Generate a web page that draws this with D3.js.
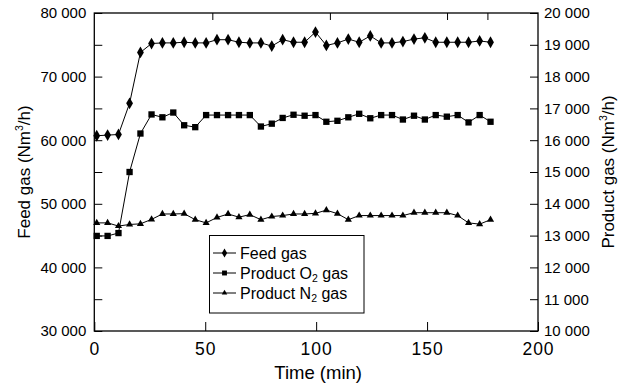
<!DOCTYPE html>
<html><head><meta charset="utf-8">
<script src="https://cdn.jsdelivr.net/npm/d3@7"></script>
<style>
html,body{margin:0;padding:0;background:#fff;}
svg{display:block;font-family:"Liberation Sans",Arial,sans-serif;}
</style></head>
<body>
<svg id="c" width="627" height="391"></svg>
<script>
// ---- data ----
const times = [1.1,6.0,10.9,15.9,20.8,25.8,30.7,35.6,40.5,45.5,50.4,55.3,60.3,65.2,70.1,75.1,80.0,84.9,89.8,94.8,99.7,104.6,109.6,114.5,119.4,124.4,129.3,134.2,139.1,144.1,149.0,153.9,158.9,163.8,168.7,173.7,178.6];
const feedGas = [60700,60800,60900,65800,73800,75200,75300,75300,75400,75300,75300,75800,75800,75400,75300,75300,74800,75800,75400,75400,77000,74900,75300,75900,75400,76400,75300,75300,75500,75900,76100,75400,75400,75400,75400,75600,75400];
const productO2 = [12990,12990,13080,15000,16210,16810,16720,16870,16470,16410,16790,16790,16790,16790,16790,16430,16520,16700,16800,16770,16790,16580,16610,16720,16830,16690,16790,16790,16650,16770,16650,16790,16740,16790,16560,16790,16580];
const productN2 = [13400,13400,13300,13350,13370,13510,13680,13680,13690,13500,13400,13570,13680,13580,13660,13500,13600,13630,13680,13680,13700,13800,13690,13500,13630,13630,13630,13630,13630,13720,13720,13720,13720,13630,13400,13360,13500];
const xTicks = [0,50,100,150,200];
const xTopTicks = [53.2,106.2,159.0,177.2];
const leftTicks = [30000,35000,40000,45000,50000,55000,60000,65000,70000,75000,80000];
const rightTicks = [10000,11000,12000,13000,14000,15000,16000,17000,18000,19000,20000];
const legendItems = [
  {name:"Feed gas", sub:null, key:"feed"},
  {name:"Product O", sub:"2", tail:" gas", key:"o2"},
  {name:"Product N", sub:"2", tail:" gas", key:"n2"}
];

// ---- layout ----
const L=94.3, R=538, T=13, B=331;
const svg = d3.select("#c");
const x = d3.scaleLinear().domain([0,200]).range([L,R]);
const yL = d3.scaleLinear().domain([30000,80000]).range([B,T]);
const yR = d3.scaleLinear().domain([10000,20000]).range([B,T]);
const fmt = d3.formatLocale({decimal:".",thousands:"\u2009".replace("\u2009"," "),grouping:[3],currency:["",""]}).format(",d");

function styleAxis(g){
  g.select(".domain").remove();
  g.selectAll(".tick line").attr("stroke","#000").attr("stroke-width",1);
  g.selectAll(".tick text").attr("fill","#000");
}

// left axis
svg.append("g").attr("transform",`translate(${L},0)`)
  .call(d3.axisLeft(yL).tickValues(leftTicks).tickSizeInner(-8).tickSizeOuter(0).tickPadding(8)
    .tickFormat(d=> d%10000===0 ? fmt(d) : ""))
  .call(styleAxis)
  .call(g=>g.selectAll(".tick text").attr("font-size",15).attr("font-family","Liberation Sans, Arial"));

// right axis
svg.append("g").attr("transform",`translate(${R},0)`)
  .call(d3.axisRight(yR).tickValues(rightTicks).tickSizeInner(-8).tickSizeOuter(0).tickPadding(6)
    .tickFormat(fmt))
  .call(styleAxis)
  .call(g=>g.selectAll(".tick text").attr("font-size",15).attr("font-family","Liberation Sans, Arial"));

// bottom axis
svg.append("g").attr("transform",`translate(0,${B})`)
  .call(d3.axisBottom(x).tickValues(xTicks).tickSizeInner(-9).tickSizeOuter(0).tickPadding(11.5).tickFormat(d3.format("d")))
  .call(styleAxis)
  .call(g=>g.selectAll(".tick text").attr("font-size",17.5).attr("letter-spacing",1).attr("font-family","Liberation Sans, Arial"));
// hide tick line at the ends (frame there)
// top axis ticks
svg.append("g").attr("transform",`translate(0,${T})`)
  .call(d3.axisTop(x).tickValues(xTopTicks).tickSizeInner(-7).tickSizeOuter(0).tickFormat(""))
  .call(styleAxis);

// frame
svg.append("rect").attr("x",L).attr("y",T).attr("width",R-L).attr("height",B-T)
  .attr("fill","none").attr("stroke","#000").attr("stroke-width",1.3);

// series
const series = [
  {key:"feed", vals:feedGas, y:yL, sym:d3.symbolDiamond, size:40},
  {key:"o2", vals:productO2, y:yR, sym:d3.symbolSquare, size:40},
  {key:"n2", vals:productN2, y:yR, sym:d3.symbolTriangle, size:22}
];
series.forEach(s=>{
  const pts = times.map((t,i)=>[x(t), s.y(s.vals[i])]);
  svg.append("path").attr("d",d3.line()(pts)).attr("fill","none").attr("stroke","#000").attr("stroke-width",1);
  svg.append("g").selectAll("path").data(pts).join("path")
    .attr("transform",d=>`translate(${d[0]},${d[1]})`)
    .attr("d",d3.symbol().type(s.sym).size(s.size)).attr("fill","#000");
});

// legend
const lg = svg.append("g");
lg.append("rect").attr("x",209.5).attr("y",235.5).attr("width",154.5).attr("height",77.5)
  .attr("fill","#fff").attr("stroke","#000").attr("stroke-width",1);
legendItems.forEach((it,i)=>{
  const cy = 253 + i*20;
  const s = series.find(q=>q.key===it.key);
  lg.append("line").attr("x1",213).attr("x2",236).attr("y1",cy).attr("y2",cy).attr("stroke","#000").attr("stroke-width",1);
  lg.append("path").attr("transform",`translate(224.5,${cy})`).attr("d",d3.symbol().type(s.sym).size(s.size*0.6)).attr("fill","#000");
  const t = lg.append("text").attr("x",240).attr("y",cy+5.5).attr("font-size",16).attr("fill","#000");
  t.append("tspan").text(it.name);
  if(it.sub){
    t.append("tspan").attr("font-size",10.5).attr("dy",3).text(it.sub);
    t.append("tspan").attr("dy",-3).text(it.tail);
  }
});

// axis titles
const lt = svg.append("text").attr("transform",`translate(30,${(T+B)/2}) rotate(-90)`)
  .attr("text-anchor","middle").attr("font-size",17).attr("fill","#000");
lt.append("tspan").text("Feed gas (Nm");
lt.append("tspan").attr("font-size",10.5).attr("dy",-7).text("3");
lt.append("tspan").attr("dy",7).text("/h)");

const rt = svg.append("text").attr("transform",`translate(614,${(T+B)/2}) rotate(-90)`)
  .attr("text-anchor","middle").attr("font-size",17).attr("fill","#000");
rt.append("tspan").text("Product gas (Nm");
rt.append("tspan").attr("font-size",10.5).attr("dy",-7).text("3");
rt.append("tspan").attr("dy",7).text("/h)");

svg.append("text").attr("x",(L+R)/2+2).attr("y",379).attr("text-anchor","middle")
  .attr("font-size",18.5).attr("fill","#000").text("Time (min)");
</script>
</body></html>
